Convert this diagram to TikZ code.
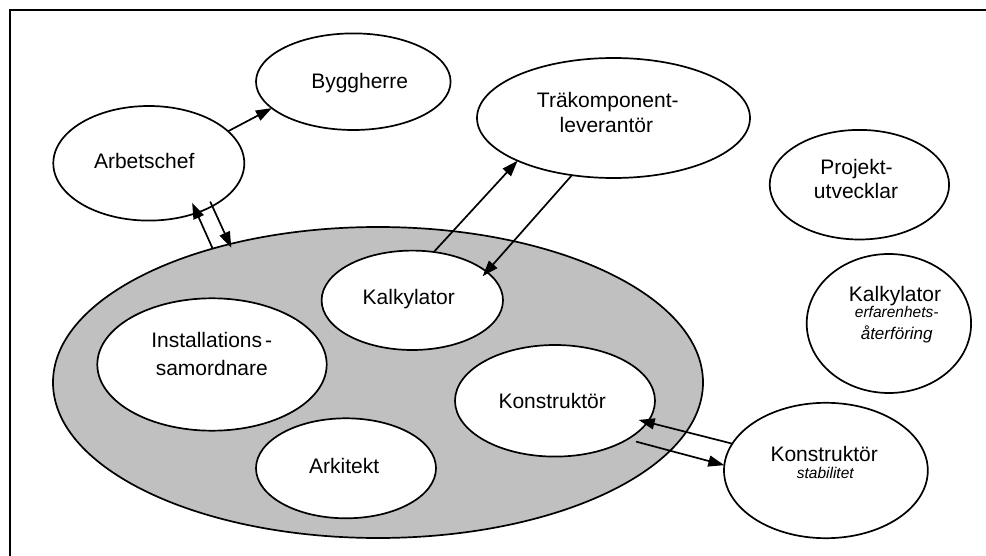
\documentclass[tikz,border=0pt]{standalone}
\usepackage{fontspec}
\setmainfont{Liberation Sans}
\usetikzlibrary{shapes.geometric,arrows.meta}
\definecolor{groupgray}{HTML}{C0C0C0}
\begin{document}
\begin{tikzpicture}[x=1pt,y=-1pt,
  oval/.style={ellipse, draw, line width=1.7pt, fill=white, inner sep=0pt, outer sep=0pt},
  lbl/.style={anchor=base, inner sep=0pt, font=\fontsize{21}{25}\selectfont},
  sub/.style={anchor=base, inner sep=0pt, font=\fontsize{15.5}{18}\selectfont\itshape},
  arr/.style={line width=1.7pt, -{Triangle[length=16pt,width=11pt]}},
]
\useasboundingbox (0,0) rectangle (986,556);
% open frame (top and left edges)
\draw[line width=2pt] (10,556) -- (10,10) -- (986,10);

% project group
\node[oval, fill=groupgray, minimum width=650pt, minimum height=311pt] (big) at (378,382.5) {};
\node[oval, minimum width=181.4pt, minimum height=99.4pt] (kal) at (412.3,300.3) {};
\node[oval, minimum width=229.4pt, minimum height=132.4pt] (ins) at (212,364.5) {};
\fill[white] (128,319.6) rectangle (296,395);
\node[oval, minimum width=200pt, minimum height=111.6pt] (kon) at (555,400.8) {};
\node[oval, minimum width=180pt, minimum height=100pt] (ark) at (346,468.3) {};

% other actors
\node[oval, minimum width=194.6pt, minimum height=96.6pt] (byg) at (353.3,81.7) {};
\node[oval, minimum width=191pt, minimum height=114.6pt] (arb) at (148.8,163.3) {};
\node[oval, minimum width=273pt, minimum height=120pt] (tra) at (613.5,118) {};
\node[oval, minimum width=179.4pt, minimum height=109.6pt] (pro) at (859.4,184.7) {};
\node[oval, minimum width=164.4pt, minimum height=139pt] (kalR) at (888.9,323.5) {};
\node[oval, minimum width=203.8pt, minimum height=135.4pt] (konR) at (825.9,470.5) {};

% labels
\node[lbl] (tByg) at (359.7,88.3) {Byggherre};
\node[lbl] (tArb) at (144.2,168.3) {Arbetschef};
\node[lbl] (tTraA) at (607.8,107.5) {Träkomponent-};
\node[lbl] (tTraB) at (606.4,133) {leverantör};
\node[lbl] (tProA) at (856.5,174.5) {Projekt-};
\node[lbl] (tProB) at (856,199) {utvecklar};
\node[lbl] (tKalR) at (895,301.7) {Kalkylator};
\node[sub] (tKalRa) at (896.7,317.3) {erfarenhets-};
\node[sub, font=\fontsize{17}{20}\selectfont\itshape] (tKalRb) at (896.7,339.3) {återföring};
\node[lbl] (tKal) at (408.8,305) {Kalkylator};
\node[lbl] (tInsA) at (211.7,347.3) {Installations\kern3pt-};
\node[lbl] (tInsB) at (211.8,375) {samordnare};
\node[lbl] (tKon) at (552.2,408.3) {Konstruktör};
\node[lbl] (tArk) at (344.2,473.3) {Arkitekt};
\node[lbl] (tKonR) at (824.2,461) {Konstruktör};
\node[sub] (tKonRa) at (825.3,478.3) {stabilitet};

% connectors
\draw[arr] (arb.22) -- (byg.198.5);
\draw[arr, shorten >=-11pt] (big.141) -- (arb.314.2);
\draw[arr, shorten <=-5pt, shorten >=-4pt] (arb.326) -- (big.137);
\draw[arr] (kal.66) -- (tra.204.3);
\draw[arr, shorten >=-6pt] (tra.234.6) -- (kal.21.7);
\draw[arr, shorten >=-9pt] (konR.164.6) -- (kon.347.8);
\draw[arr, shorten <=9pt] (kon.332.8) -- (konR.177.3);
\end{tikzpicture}
\end{document}
